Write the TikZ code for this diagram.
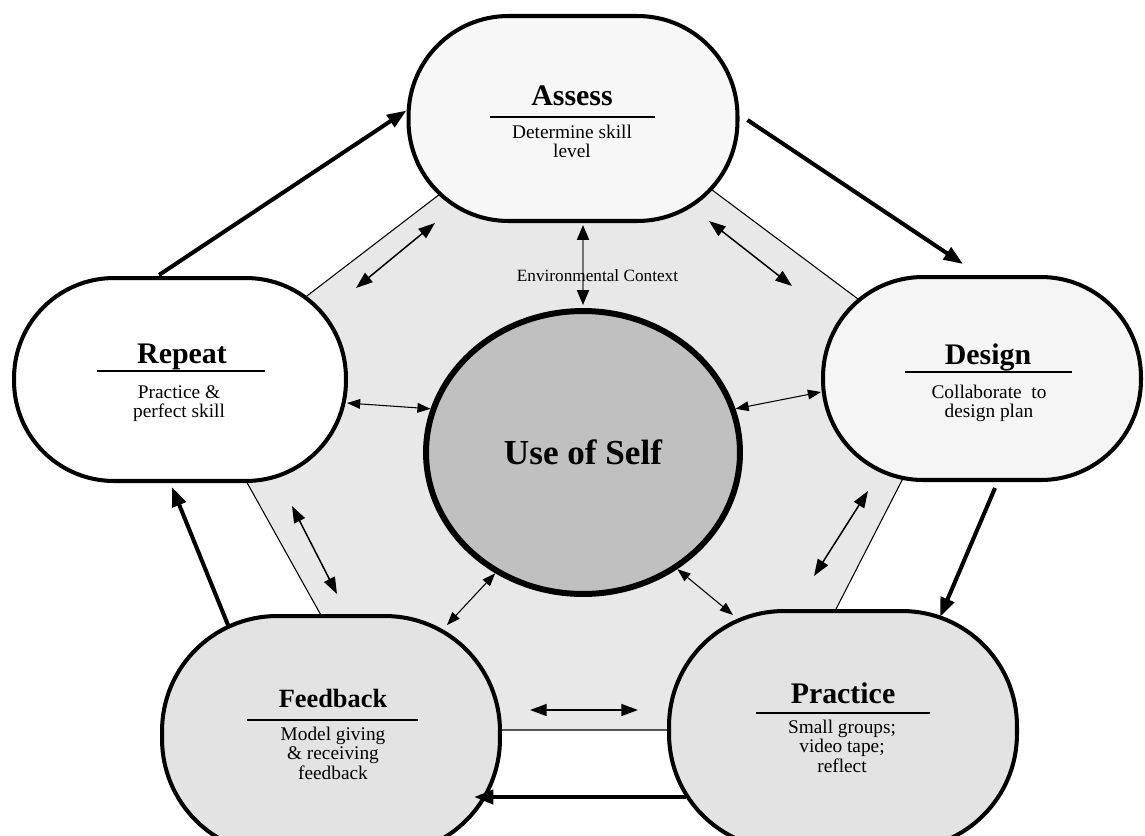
\documentclass[tikz,border=0pt]{standalone}
\usepackage{fontspec}
\setmainfont{Liberation Serif}
\usetikzlibrary{shapes.geometric,arrows.meta,calc}
\definecolor{fassess}{HTML}{F7F7F7}
\definecolor{fdesign}{HTML}{F5F5F5}
\definecolor{flow}{HTML}{E3E3E3}
\definecolor{fpent}{HTML}{E8E8E8}
\definecolor{fself}{HTML}{C0C0C0}
\newcommand\subl[1]{\begin{tabular}[t]{@{}c@{}}#1\end{tabular}}
\begin{document}
\begin{tikzpicture}[x=0.02cm,y=-0.02cm,
  stage/.style={draw=black, line width=2.3pt, rounded corners=2cm, inner sep=0pt},
  ttl/.style={font=\fontsize{17}{20}\selectfont\bfseries, anchor=base, inner sep=0pt},
  subtxt/.style={font=\fontsize{11}{11.3}\selectfont, anchor=base, inner sep=0pt},
  uline/.style={line width=0.75pt},
  cyclearrow/.style={line width=2.3pt, -{Triangle[length=11pt,width=8pt]}},
  linkarrow/.style={line width=0.6pt, {Triangle[length=7.5pt,width=5.5pt]}-{Triangle[length=7.5pt,width=5.5pt]}},
  greyarrow/.style={line width=1.1pt, draw=black!55, {Triangle[length=8.5pt,width=6.8pt,color=black]}-{Triangle[length=8.5pt,width=6.8pt,color=black]}},
  sidearrow/.style={line width=0.85pt, {Triangle[length=9.5pt,width=6.8pt]}-{Triangle[length=9.5pt,width=6.8pt]}},
]
\useasboundingbox (0,0) rectangle (1145,835);
\fill[white] (0,0) rectangle (1145,835);

% pentagon background
\draw[fill=fpent, line width=0.6pt] (577,89) -- (957,373) -- (774,730) -- (385,730) -- (192,384) -- cycle;

% stages
\node[stage, fill=fassess, minimum width=6.58cm, minimum height=4.1cm] (assess) at (573,118.5) {};
\node[stage, fill=white, minimum width=6.64cm, minimum height=4.06cm] (repeat) at (180,379.5) {};
\node[stage, fill=fdesign, minimum width=6.36cm, minimum height=4.06cm] (design) at (982,378.5) {};
\node[stage, fill=flow, rounded corners=2.3cm, minimum width=6.76cm, minimum height=4.76cm] (feedback) at (331,735) {};
\node[stage, fill=flow, rounded corners=2.3cm, minimum width=6.96cm, minimum height=4.76cm] (practice) at (843,730) {};

% centre
\node[ellipse, draw=black, line width=3.4pt, fill=fself, minimum width=6.28cm, minimum height=5.66cm, inner sep=0pt,
      font=\fontsize{20}{24}\selectfont\bfseries] (self) at (583,452.5) {Use of Self};

% texts
\node[ttl] (assessT) at (572,105) {Assess};
\draw[uline] (490,117) -- (655,117);
\node[subtxt] (assessS) at (572,138) {\subl{Determine skill\\level}};

\node[ttl] (repeatT) at (182,363) {Repeat};
\draw[uline] (97,371) -- (265,371);
\node[subtxt] (repeatS) at (179,398) {\subl{Practice \&\\perfect skill}};

\node[ttl] (designT) at (988,364) {Design};
\draw[uline] (905,372) -- (1072,372);
\node[subtxt] (designS) at (989,398) {\subl{Collaborate\ \ to\\design plan}};

\node[ttl, font=\fontsize{15}{18}\selectfont\bfseries] (feedbackT) at (333,707) {Feedback};
\draw[uline] (247,720) -- (418,720);
\node[subtxt] (feedbackS) at (333,740) {\subl{Model giving\\\& receiving\\feedback}};

\node[ttl] (practiceT) at (843,703) {Practice};
\draw[uline] (756,713) -- (930,713);
\node[subtxt] (practiceS) at (842,733) {\subl{Small groups;\\video tape;\\reflect}};

% outer cycle
\draw[cyclearrow] ($(repeat.north)+(-21,-1)$) -- ($(assess.west)+(0,-8)$);
\draw[cyclearrow] ($(assess.east)+(8,1.5)$) -- ($(design.north)+(-19,-11)$);
\draw[cyclearrow] ($(design.south)+(13,6)$) -- ($(practice.north)+(97,8)$);
\draw[cyclearrow] ($(practice.west)+(19,67)$) -- ($(feedback.east)+(-28,62)$);
\draw[cyclearrow] ($(feedback.north)+(-103,11)$) -- ($(repeat.south)+(-8,4)$);

% links to centre
\draw[greyarrow] ($(assess.south)+(10,2)$) -- ($(self.north)+(0,-3)$);
\draw[linkarrow] ($(repeat.east)+(-1,23.5)$) -- (self.164);
\draw[linkarrow] (self.16) -- ($(design.west)+(0,13.5)$);
\draw[linkarrow] (self.234) -- ($(feedback.north)+(116,11)$);
\draw[linkarrow] (self.309) -- ($(practice.north)+(-110,6)$);

\node[font=\fontsize{9.8}{11}\selectfont, anchor=base, inner sep=0pt] (env) at (597.5,281) {Environmental Context};

% side arrows
\coordinate (tlA) at (356,288); \coordinate (tlB) at (435,223);
\coordinate (trA) at (709,221); \coordinate (trB) at (792,286);
\coordinate (lA) at (292,506);  \coordinate (lB) at (337,594);
\coordinate (rA) at (868,491);  \coordinate (rB) at (814,576);
\coordinate (bA) at (530,710);  \coordinate (bB) at (638,710);
\draw[sidearrow] (tlA) -- (tlB);
\draw[sidearrow] (trA) -- (trB);
\draw[sidearrow] (lA) -- (lB);
\draw[sidearrow] (rA) -- (rB);
\draw[sidearrow] (bA) -- (bB);
\end{tikzpicture}
\end{document}
